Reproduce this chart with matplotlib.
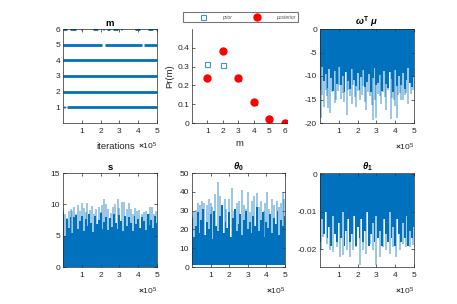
import numpy as np
import matplotlib.pyplot as plt

plt.rcParams['font.family'] = ['Liberation Sans', 'DejaVu Sans']
plt.rcParams['axes.unicode_minus'] = False
plt.rcParams['mathtext.fontset'] = 'custom'
plt.rcParams['mathtext.it'] = 'Liberation Sans:italic:bold'
plt.rcParams['mathtext.rm'] = 'Liberation Sans:bold'
plt.rcParams['mathtext.bf'] = 'Liberation Sans:bold'

blue = '#0072BD'
dark = '#262626'

# m trace: stretches of iterations (in 1e5) spent at each model size
m_level = [1, 1, 2, 3, 4, 5, 5, 5, 6, 6, 6, 6, 6, 6, 6, 6, 6, 6, 6]
m_start = [0.04, 0.22, 0.0, 0.0, 0.0, 0.0, 2.25, 4.32, 0.0, 0.37, 0.97, 1.61, 2.13, 2.33, 2.68, 3.10, 3.83, 4.54, 4.96]
m_end = [0.08, 5.0, 5.0, 5.0, 5.0, 2.10, 4.20, 5.0, 0.20, 0.69, 1.01, 1.88, 2.17, 2.50, 2.94, 3.14, 4.10, 4.80, 5.0]

# prior / posterior over m
m_vals = [1, 2, 3, 4, 5, 6]
prior = [0.313, 0.309, 0.242, 0.112, 0.021, 0.001]
posterior = [0.238, 0.384, 0.242, 0.112, 0.021, 0.001]

# sample positions (1e5 iterations) for the dense part of every trace
body_x = [0.0, 0.1, 0.2, 0.3, 0.4, 0.5, 0.6, 0.7, 0.8, 0.9, 1.0, 1.1, 1.2, 1.3, 1.4, 1.5, 1.6,
          1.7, 1.8, 1.9, 2.0, 2.1, 2.2, 2.3, 2.4, 2.5, 2.6, 2.7, 2.8, 2.9, 3.0, 3.1, 3.2, 3.3,
          3.4, 3.5, 3.6, 3.7, 3.8, 3.9, 4.0, 4.1, 4.2, 4.3, 4.4, 4.5, 4.6, 4.7, 4.8, 4.9, 5.0]

# omega^T mu trace
w_body_y = [-13, -8, -11, -9.5, -12.5, -8.5, -10.5, -13.2, -9, -11.8, -8, -12, -10, -13.5, -9.2, -11, -12.8,
            -8.6, -10.8, -12.2, -9.4, -13, -10.2, -8.8, -12.4, -11.2, -9.6, -13.4, -10.4, -8.4, -12, -11.4,
            -9.8, -13.1, -8.9, -11.6, -12.6, -9.1, -10.7, -13.3, -8.7, -12.1, -10.1, -11.9, -9.3, -12.7,
            -10.9, -8.3, -11.5, -12.3, -10.2]
w_spike_x = [0.04, 0.12, 0.21, 0.30, 0.35, 0.45, 0.53, 0.62, 0.71, 0.80, 0.85, 0.95, 1.02, 1.12, 1.20, 1.30,
             1.41, 1.50, 1.59, 1.68, 1.77, 1.85, 1.94, 2.03, 2.12, 2.21, 2.30, 2.40, 2.47, 2.56, 2.65, 2.74,
             2.83, 2.92, 3.00, 3.09, 3.18, 3.27, 3.36, 3.45, 3.53, 3.64, 3.75, 3.84, 3.92, 4.01, 4.10, 4.17,
             4.24, 4.33, 4.42, 4.50, 4.59, 4.68, 4.77, 4.86, 4.95]
w_spike_y = [-18.9, -14.0, -16.5, -13.0, -14.3, -16.8, -17.9, -13.5, -12.9, -15.8, -15.0, -13.2, -11.9, -14.8,
             -13.6, -15.5, -18.2, -13.0, -14.3, -16.0, -11.9, -14.5, -16.5, -13.2, -15.0, -14.0, -12.2, -15.6,
             -17.2, -13.5, -14.3, -16.2, -19.3, -15.0, -18.9, -13.8, -14.3, -15.9, -13.3, -14.5, -17.2, -13.0,
             -19.2, -14.6, -15.0, -16.4, -18.9, -14.0, -13.6, -15.2, -15.0, -14.0, -13.6, -16.0, -11.5, -13.8,
             -12.9]

# s trace
s_body_y = [8.8, 5.0, 7.6, 6.2, 8.0, 5.5, 7.9, 8.3, 6.0, 7.4, 8.1, 5.8, 7.7, 6.5, 8.4, 7.0, 5.6, 8.2, 6.8,
            7.5, 8.6, 6.1, 7.2, 8.0, 5.9, 7.8, 6.4, 8.5, 7.1, 6.0, 8.3, 7.4, 5.7, 8.1, 6.6, 7.9, 7.0, 5.8,
            8.2, 6.9, 7.6, 6.2, 8.0, 7.3, 5.9, 8.4, 6.7, 7.5, 6.3, 8.1, 7.0]
s_spike_x = [0.02, 0.12, 0.20, 0.30, 0.40, 0.50, 0.60, 0.68, 0.78, 0.90, 1.00, 1.10, 1.20, 1.30, 1.42, 1.55,
             1.65, 1.78, 1.90, 2.00, 2.10, 2.18, 2.30, 2.42, 2.55, 2.65, 2.78, 2.90, 3.00, 3.12, 3.25, 3.38,
             3.50, 3.60, 3.72, 3.85, 3.95, 4.05, 4.18, 4.30, 4.42, 4.55, 4.65, 4.75, 4.85, 4.95]
s_spike_y = [9.2, 8.4, 7.8, 8.9, 9.3, 9.0, 9.6, 8.5, 9.9, 9.0, 10.2, 9.4, 8.7, 10.2, 9.1, 9.8, 8.5, 9.3, 9.6,
             8.8, 9.9, 10.9, 10.0, 9.2, 8.6, 9.5, 10.0, 10.8, 9.4, 10.3, 10.4, 9.2, 10.2, 9.3, 8.5, 9.4, 8.9,
             9.1, 8.4, 8.8, 9.0, 8.5, 9.6, 9.6, 8.4, 8.9]

# theta_0 trace
t0_body_y = [26, 16, 22, 29, 18, 25, 31, 17, 24, 20, 28, 15, 30, 22, 19, 27, 33, 18, 24, 21, 29, 16, 26, 31,
             19, 23, 28, 17, 25, 30, 20, 24, 18, 27, 22, 32, 19, 25, 29, 16, 24, 21, 28, 18, 26, 23, 30, 17,
             25, 22, 27]
t0_spike_x = [0.02, 0.10, 0.20, 0.30, 0.45, 0.55, 0.65, 0.78, 0.90, 1.00, 1.10, 1.25, 1.38, 1.50, 1.62, 1.75,
              1.85, 2.00, 2.14, 2.25, 2.40, 2.55, 2.68, 2.80, 2.90, 3.00, 3.12, 3.25, 3.35, 3.48, 3.60, 3.72,
              3.85, 3.95, 4.02, 4.15, 4.30, 4.42, 4.55, 4.68, 4.80, 4.90, 4.97]
t0_spike_y = [27, 29, 30.5, 34, 33, 35, 34, 33, 36, 34, 32, 39, 45, 38, 33, 36, 31, 36, 42, 30, 34, 35, 41,
              33, 31, 40, 29, 35, 38, 39.6, 32, 35, 30, 34, 40, 31, 36, 33, 35, 32, 34, 40, 36]

# theta_1 trace
t1_body_y = [-0.018, -0.012, -0.016, -0.010, -0.017, -0.014, -0.019, -0.011, -0.016, -0.018, -0.013, -0.017,
             -0.010, -0.019, -0.015, -0.012, -0.018, -0.016, -0.011, -0.019, -0.014, -0.017, -0.012, -0.018,
             -0.015, -0.010, -0.019, -0.016, -0.013, -0.018, -0.011, -0.017, -0.015, -0.019, -0.012, -0.016,
             -0.018, -0.010, -0.017, -0.014, -0.019, -0.012, -0.016, -0.018, -0.013, -0.017, -0.011, -0.019,
             -0.015, -0.017, -0.014]
t1_spike_x = [0.035, 0.18, 0.35, 0.53, 0.71, 0.88, 1.06, 1.24, 1.41, 1.59, 1.77, 1.94, 2.12, 2.30, 2.47, 2.65,
              2.83, 2.97, 3.18, 3.36, 3.53, 3.71, 3.89, 4.06, 4.24, 4.42, 4.59, 4.77, 4.95]
t1_spike_y = [-0.0203, -0.0167, -0.0185, -0.0203, -0.0207, -0.0194, -0.0221, -0.0216, -0.0203, -0.0221,
              -0.0203, -0.0194, -0.0243, -0.0203, -0.0212, -0.0185, -0.0203, -0.0243, -0.0221, -0.0194,
              -0.0203, -0.0212, -0.0194, -0.0221, -0.0203, -0.0185, -0.0194, -0.0194, -0.0189]

W, H = 457, 304
fig = plt.figure(figsize=(W / 100, H / 100), dpi=100)


def box(l, t, r, b):
    return [l / W, 1 - b / H, (r - l) / W, (b - t) / H]


def style(ax, full=True):
    ax.tick_params(direction='in', length=2, width=0.5, labelsize=6, colors=dark,
                   top=full, right=full)
    ax.tick_params(axis='x', pad=3.5)
    ax.tick_params(axis='y', pad=2)
    for sp in ax.spines.values():
        sp.set_linewidth(0.5)
        sp.set_color(dark)
    if not full:
        ax.spines['top'].set_visible(False)
        ax.spines['right'].set_visible(False)


def iter_axis(ax, y=-0.255):
    ax.set_xlim(0, 5e5)
    ax.set_xticks([1e5, 2e5, 3e5, 4e5, 5e5])
    ax.set_xticklabels(['1', '2', '3', '4', '5'])
    ax.text(1.0, y, r'$\times$10$^{\mathregular{5}}$', transform=ax.transAxes,
            ha='right', va='center', fontsize=6, color=dark)


def trace(ax, by, sx, sy, base):
    ax.vlines(np.array(sx) * 1e5, base, sy, color=blue, lw=1.1, alpha=0.5)
    ax.fill_between(np.array(body_x) * 1e5, base, by, step='mid', color=blue, lw=0)


# m
ax1 = fig.add_axes(box(63, 29, 157, 123))
ax1.hlines(m_level, np.array(m_start) * 1e5, np.array(m_end) * 1e5, color=blue, lw=2.0)
ax1.set_ylim(0, 6)
ax1.set_yticks([1, 2, 3, 4, 5, 6])
iter_axis(ax1, -0.245)
ax1.text(0.56, -0.245, 'iterations', transform=ax1.transAxes, ha='center', va='center',
         fontsize=6.8, color=dark)
ax1.set_title('m', fontsize=6.8, fontweight='bold', pad=2.5)
style(ax1)

# Pr(m)
ax2 = fig.add_axes(box(192, 29, 287, 123))
hp, = ax2.plot(m_vals, prior, 's', ms=3.6, mfc='none', mec='#3d94d4', mew=0.8, label='prior')
hq, = ax2.plot(m_vals, posterior, 'o', ms=5.0, mfc='#FF0000', mec='#FF0000', label='posterior')
ax2.set_xlim(0, 6.15)
ax2.set_ylim(0, 0.5)
ax2.set_xticks(m_vals)
ax2.set_yticks([0, 0.1, 0.2, 0.3, 0.4])
ax2.set_yticklabels(['0', '0.1', '0.2', '0.3', '0.4'])
ax2.set_xlabel('m', fontsize=6.8, color=dark, labelpad=3)
ax2.set_ylabel('Pr(m)', fontsize=6.8, color=dark, labelpad=2)
style(ax2, full=False)
leg = fig.legend(handles=[hp, hq], loc='center', ncol=2,
                 bbox_to_anchor=(240.5 / W, 1 - 17 / H),
                 fontsize=3.6, frameon=True, fancybox=False, borderpad=0.45,
                 handletextpad=0.3, handlelength=7, columnspacing=1.5, borderaxespad=0)
leg.get_frame().set_edgecolor('#555555')
leg.get_frame().set_linewidth(0.8)
for t in leg.get_texts():
    t.set_color('#555555')
    t.set_fontstyle('italic')

# omega^T mu
ax3 = fig.add_axes(box(320, 29, 414, 123))
trace(ax3, w_body_y, w_spike_x, w_spike_y, 0)
ax3.set_ylim(-20, 0)
ax3.set_yticks([-20, -15, -10, -5, 0])
iter_axis(ax3)
ax3.set_title(r'$\omega^{\mathrm{T}}\ \mu$', fontsize=6.8, pad=2.5)
style(ax3)

# s
ax4 = fig.add_axes(box(63, 173, 157, 267))
trace(ax4, s_body_y, s_spike_x, s_spike_y, 0)
ax4.set_ylim(0, 15)
ax4.set_yticks([0, 5, 10, 15])
iter_axis(ax4)
ax4.set_title('s', fontsize=6.8, fontweight='bold', pad=2.5)
style(ax4)

# theta_0
ax5 = fig.add_axes(box(192, 173, 285, 267))
trace(ax5, t0_body_y, t0_spike_x, t0_spike_y, 0.9)
ax5.set_ylim(0, 50)
ax5.set_yticks([0, 10, 20, 30, 40, 50])
iter_axis(ax5)
ax5.set_title(r'$\theta_0$', fontsize=6.8, pad=2.5)
style(ax5)

# theta_1
ax6 = fig.add_axes(box(320, 173, 414, 267))
trace(ax6, t1_body_y, t1_spike_x, t1_spike_y, 0)
ax6.set_ylim(-0.0247, 0.00035)
ax6.set_yticks([-0.02, -0.01, 0])
ax6.set_yticklabels(['-0.02', '-0.01', '0'])
iter_axis(ax6)
ax6.set_title(r'$\theta_1$', fontsize=6.8, pad=2.5)
style(ax6)

fig.savefig('out.png', dpi=100)
